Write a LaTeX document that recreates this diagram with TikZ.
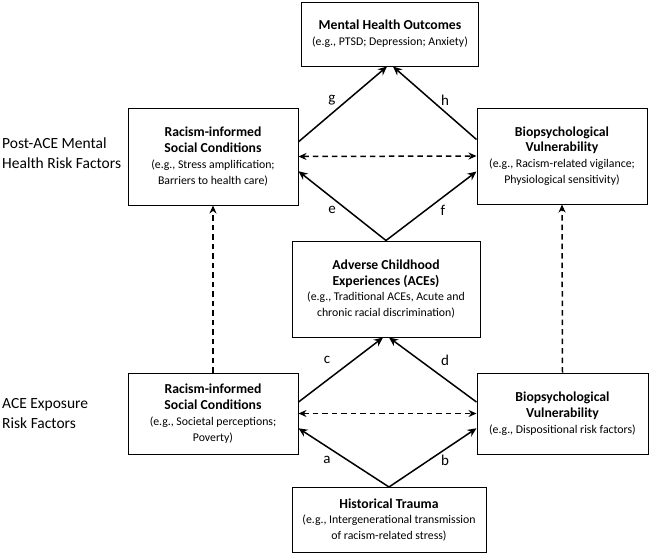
\documentclass[tikz,border=0pt]{standalone}
\usepackage{fontspec}
\setmainfont{Carlito}
\usepackage{tikz}
\usetikzlibrary{calc}
\usetikzlibrary{arrows.meta}
\tikzstyle{boxnode} = [draw, rectangle, line width=1pt, align=center, inner sep=2pt, font=\fontsize{11.8}{15.8}\selectfont]
\tikzstyle{sidenode} = [align=left, anchor=west, inner sep=0pt, font=\fontsize{15.5}{20}\selectfont]
\tikzstyle{pathlabel} = [inner sep=0pt, font=\fontsize{15}{16}\selectfont]
\tikzstyle{patharrow} = [-{Stealth[length=9pt, width=8pt]}, line width=1.5pt]
\tikzstyle{linkarrow} = [{Stealth[length=8pt, width=7pt]}-{Stealth[length=8pt, width=7pt]}, line width=1.5pt, dash pattern=on 5.5pt off 4pt]
\tikzstyle{uparrow} = [-{Stealth[length=8pt, width=7pt]}, line width=1.5pt, dash pattern=on 5.5pt off 4pt]
\newcommand\ttl[1]{{\fontsize{13.7}{17}\selectfont\bfseries #1}}

\begin{document}
\begin{tikzpicture}[x=1pt, y=-1pt]
\useasboundingbox (0,0) rectangle (649,555);

% boxes
\node[boxnode, minimum width=177pt, minimum height=64pt] (mho) at (390,34) {\ttl{Mental Health Outcomes}\\(e.g., PTSD; Depression; Anxiety)};
\node[boxnode, minimum width=170pt, minimum height=97pt] (rscpost) at (213,156.5) {\ttl{Racism-informed}\\\ttl{Social Conditions}\\(e.g., Stress amplification;\\Barriers to health care)};
\node[boxnode, minimum width=170pt, minimum height=96pt] (biopost) at (562,156) {\ttl{Biopsychological}\\\ttl{Vulnerability}\\(e.g., Racism-related vigilance;\\Physiological sensitivity)};
\node[boxnode, minimum width=188pt, minimum height=96pt] (ace) at (386,289) {\ttl{Adverse Childhood}\\\ttl{Experiences (ACEs)}\\(e.g., Traditional ACEs, Acute and\\chronic racial discrimination)};
\node[boxnode, minimum width=170pt, minimum height=81pt] (rscexp) at (213,413.5) {\ttl{Racism-informed}\\\ttl{Social Conditions}\\(e.g., Societal perceptions;\\Poverty)};
\node[boxnode, minimum width=171pt, minimum height=81pt] (bioexp) at (562.5,413.5) {\ttl{Biopsychological}\\\ttl{Vulnerability}\\(e.g., Dispositional risk factors)};
\node[boxnode, minimum width=194pt, minimum height=65pt] (ht) at (389,520) {\ttl{Historical Trauma}\\(e.g., Intergenerational transmission\\of racism-related stress)};

% row labels
\node[sidenode] (postlbl) at (2,153) {Post-ACE Mental\\Health Risk Factors};
\node[sidenode] (explbl) at (2,414) {ACE Exposure\\Risk Factors};

% paths a-h
\draw[patharrow] (ht.north) -- ($(rscexp.north east)!0.68!(rscexp.south east)$);
\draw[patharrow] (ht.north) -- ($(bioexp.north west)!0.68!(bioexp.south west)$);
\draw[patharrow] ($(rscexp.north east)!0.36!(rscexp.south east)$) -- ($(ace.south)+(-3,0)$);
\draw[patharrow] ($(bioexp.north west)!0.36!(bioexp.south west)$) -- ($(ace.south)+(3,0)$);
\draw[patharrow] (ace.north) -- ($(rscpost.north east)!0.65!(rscpost.south east)$);
\draw[patharrow] (ace.north) -- ($(biopost.north west)!0.66!(biopost.south west)$);
\draw[patharrow] ($(rscpost.north east)!0.35!(rscpost.south east)$) -- ($(mho.south)+(-3,0)$);
\draw[patharrow] ($(biopost.north west)!0.33!(biopost.south west)$) -- ($(mho.south)+(3,0)$);

% dashed links
\draw[linkarrow] (rscexp.east) -- (bioexp.west);
\draw[linkarrow] (rscpost.east) -- (biopost.west);
\draw[uparrow] (rscexp.north) -- (rscpost.south);
\draw[uparrow] (bioexp.north) -- (biopost.south);

% path letters
\node[pathlabel] (la) at (327,460) {a};
\node[pathlabel] (lb) at (445,460) {b};
\node[pathlabel] (lc) at (327,360) {c};
\node[pathlabel] (ld) at (445,360) {d};
\node[pathlabel] (le) at (332,210) {e};
\node[pathlabel] (lf) at (443,210) {f};
\node[pathlabel] (lg) at (332,100) {g};
\node[pathlabel] (lh) at (445,100) {h};
\end{tikzpicture}
\end{document}
